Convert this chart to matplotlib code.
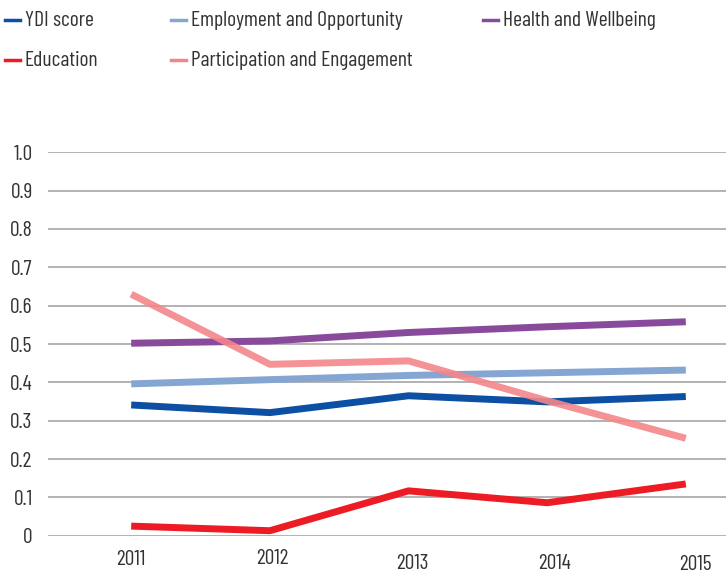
import matplotlib
matplotlib.use("Agg")
import matplotlib.pyplot as plt
from matplotlib.lines import Line2D
from matplotlib.transforms import ScaledTranslation

plt.rcParams['font.family'] = ['Barlow Condensed', 'DejaVu Sans']

years = ['2011', '2012', '2013', '2014', '2015']
ydi = [0.341, 0.321, 0.365, 0.349, 0.363]
employment = [0.396, 0.407, 0.418, 0.425, 0.432]
health = [0.502, 0.508, 0.530, 0.545, 0.558]
education = [0.025, 0.013, 0.117, 0.086, 0.135]
participation = [0.630, 0.447, 0.456, 0.352, 0.254]

series = [
    ('YDI score', ydi, '#0D4FA3', 1.0),
    ('Employment and Opportunity', employment, '#85A6D2', 1.0),
    ('Health and Wellbeing', health, '#8A4A9C', 1.0),
    ('Education', education, '#ED1C24', 1.0),
    ('Participation and Engagement', participation, '#F4868A', 0.9),
]

W, H = 726, 574
fig = plt.figure(figsize=(W / 100, H / 100), dpi=100)
ax = fig.add_axes([48 / W, 1 - 535.7 / H, 1 - 48 / W, 383.4 / H])

x = list(range(len(years)))
for name, vals, color, alpha in series:
    ax.plot(x, vals, color=color, lw=5, alpha=alpha, solid_capstyle='butt',
            label=name, clip_on=False)

ax.set_ylim(0, 1.0)
ax.set_xlim(-0.6, 4.29)
ax.set_yticks([i / 10 for i in range(11)])
ax.set_yticklabels(['0'] + ['%.1f' % (i / 10) for i in range(1, 11)])
ax.set_xticks(x)
ax.set_xticklabels(years)
ax.tick_params(axis='both', length=0, labelsize=15.5, labelcolor='#333333')
ax.tick_params(axis='y', pad=11)
ax.tick_params(axis='x', pad=10)
for s in ax.spines.values():
    s.set_visible(False)
ax.grid(axis='y', color='#A6A6A6', lw=1.2)
ax.set_axisbelow(True)

# the original's year labels sit a little unevenly
nudges = [(0, 0), (3, -1), (4, 4), (7, 4), (10, 5)]
for lab, (dx, dy) in zip(ax.get_xticklabels(), nudges):
    lab.set_transform(lab.get_transform() + ScaledTranslation(dx / 100, -dy / 100, fig.dpi_scale_trans))

# legend, placed by hand in pixels (handle left edge, row centre)
legend_pos = [(5, 20), (171, 20), (483, 20), (5, 60), (171, 60)]
for (name, vals, color, alpha), (px, py) in zip(series, legend_pos):
    yf = 1 - py / H
    fig.add_artist(Line2D([px / W, (px + 15) / W], [yf, yf], color=color, lw=2.5,
                          transform=fig.transFigure))
    fig.text((px + 20) / W, yf, name, fontsize=15.5, color='#333333',
             va='center', ha='left')

fig.savefig('out.png', dpi=100)
